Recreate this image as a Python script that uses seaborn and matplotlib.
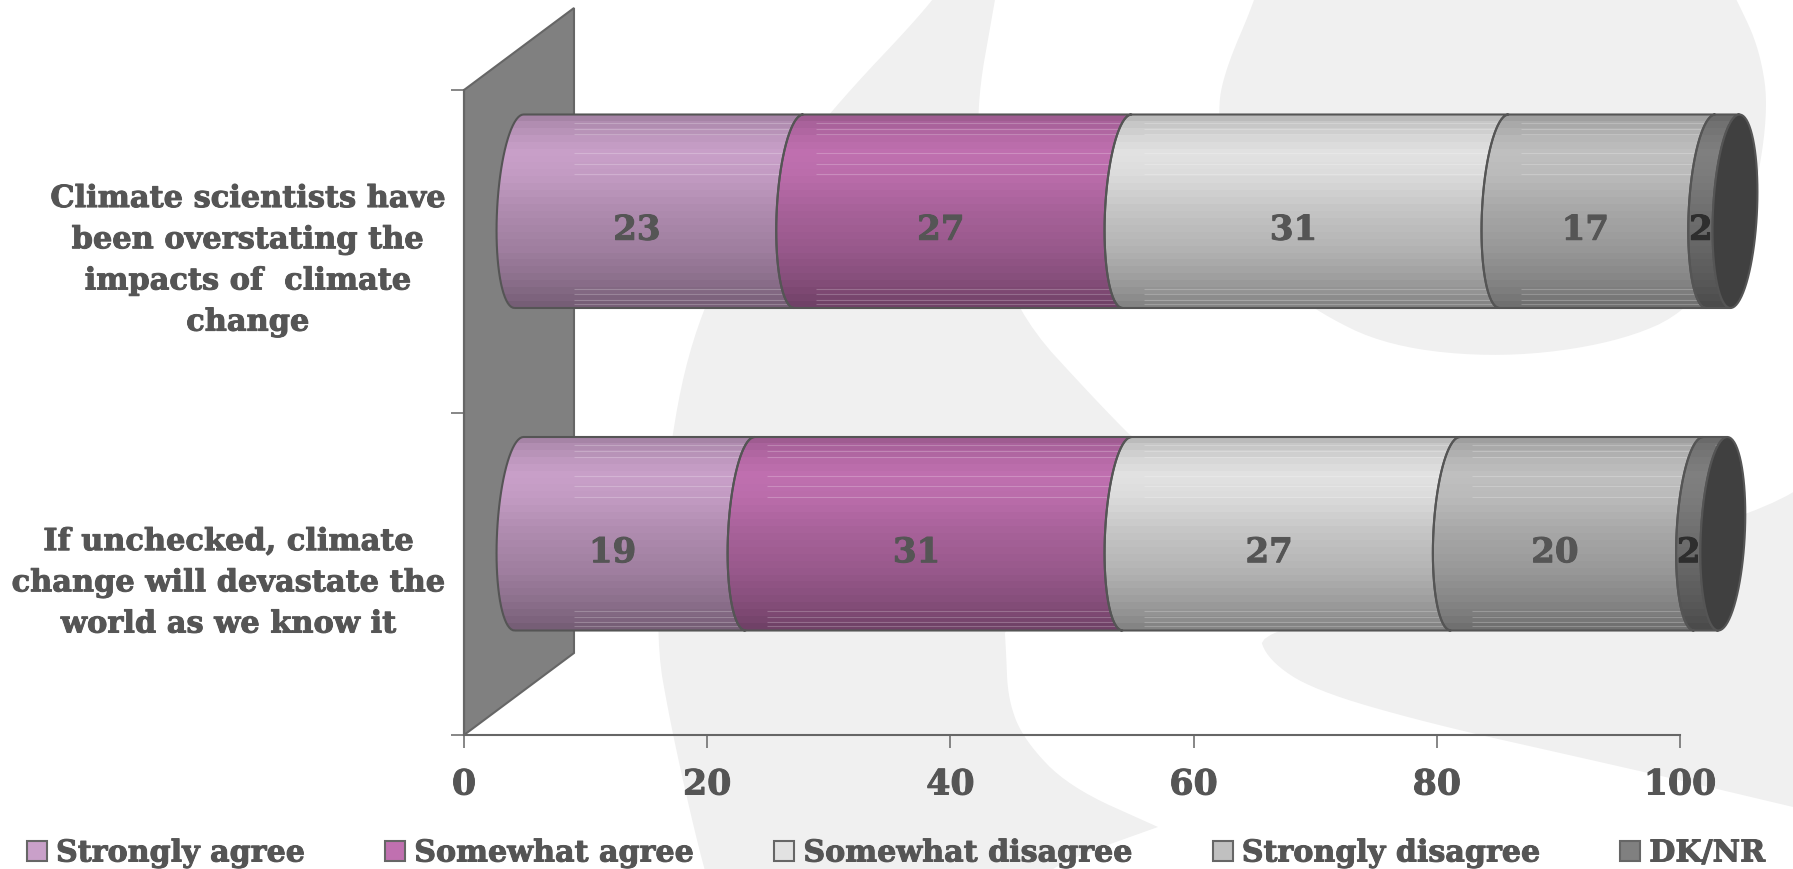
import numpy as np
import pandas as pd
import matplotlib
matplotlib.use("Agg")
import matplotlib.pyplot as plt
import matplotlib.patheffects as pe
import seaborn as sns
from matplotlib.patches import PathPatch, Patch
from matplotlib.path import Path
from matplotlib.transforms import Affine2D

# Survey results, in percent
statements = [
    "Climate scientists have\nbeen overstating the\nimpacts of  climate\nchange",
    "If unchecked, climate\nchange will devastate the\nworld as we know it",
]
responses = ["Strongly agree", "Somewhat agree", "Somewhat disagree", "Strongly disagree", "DK/NR"]
strongly_agree = [23, 19]
somewhat_agree = [27, 31]
somewhat_disagree = [31, 27]
strongly_disagree = [17, 20]
dk_nr = [2, 2]

swatch_colors = ["#C9A0C9", "#C070B0", "#E2E2E2", "#C0C0C0", "#808080"]
ink = "#555555"
frame = "#666666"
FONT = "DejaVu Serif"

W, H, DPI = 1793, 869, 100

sns.set_theme(style="white")
plt.rcParams["font.family"] = [FONT, "DejaVu Sans"]
plt.rcParams["font.weight"] = "bold"

fig = plt.figure(figsize=(W / DPI, H / DPI), dpi=DPI, facecolor="white")
heavy = [pe.withStroke(linewidth=0.7, foreground=ink)]


def smooth(points, rounds=3):
    """Corner-cut a closed outline so the backdrop shapes look hand drawn."""
    p = np.asarray(points, float)
    for _ in range(rounds):
        q = np.roll(p, -1, axis=0)
        p = np.column_stack([0.75 * p + 0.25 * q, 0.25 * p + 0.75 * q]).reshape(-1, 2)
    return p


# Pale backdrop emblem, in figure pixels
backdrop = [
    [(950, -30), (935, 0), (828, 113), (755, 210), (700, 310), (670, 433), (654, 630), (672, 733),
     (703, 867), (715, 900), (1030, 900), (1046, 867), (1158, 827), (1158, 827), (1158, 827), (1069, 787),
     (1024, 740), (1008, 700), (1006, 650), (1004, 620), (1150, 580), (1230, 500), (1150, 455), (1100, 405),
     (1013, 310), (985, 200), (975, 113), (995, 0), (1000, -30)],
    [(1262, -30), (1255, 0), (1225, 70), (1217, 113), (1228, 200), (1260, 265), (1313, 310), (1389, 347),
     (1503, 358), (1616, 343), (1692, 310), (1750, 220), (1769, 113), (1760, 50), (1737, 0), (1720, -30)],
    [(1257, 630), (1268, 660), (1313, 690), (1427, 723), (1578, 757), (1692, 783), (1793, 807),
     (1840, 818), (1840, 465), (1745, 520), (1500, 580)],
]
bg = fig.add_axes([0, 0, 1, 1], zorder=0)
bg.set_xlim(0, W)
bg.set_ylim(H, 0)
bg.axis("off")
for outline in backdrop:
    s = smooth(outline)
    bg.fill(s[:, 0], s[:, 1], color="#F0F0F0", lw=0)

# Plot area: 0-100 on x, one slot per statement on y
ax = fig.add_axes([464 / W, 1 - 735 / H, 1216 / W, 645 / H], zorder=1)
ax.patch.set_alpha(0)

series = [strongly_agree, somewhat_agree, somewhat_disagree, strongly_disagree, dk_nr]
starts = np.cumsum([np.zeros(2)] + [np.array(v, float) for v in series[:-1]], axis=0)
BAR_WIDTH = 0.6
for vals, left, col in zip(series, starts, swatch_colors):
    frame_df = pd.DataFrame({"statement": statements, "percent": vals})
    sns.barplot(data=frame_df, y="statement", x="percent", orient="y", color=col, left=left,
                width=BAR_WIDTH, errorbar=None, saturation=1, ax=ax, zorder=3, linewidth=0)

ax.set_xlim(0, 100)
ax.set_ylim(1.5, -0.5)
ax.set_xlabel("")
ax.set_ylabel("")

# Oblique projection: the cylinders sit in front of the back wall
px_x = 1216 / 100
px_y = 645 / 2
lift = ax.transData + Affine2D().translate(33, 40)

# Wall behind the bars
wall_dx, wall_dy = 110 / px_x, 82 / px_y
ax.fill([0, wall_dx, wall_dx, 0], [-0.5, -0.5 - wall_dy, 1.5 - wall_dy, 1.5],
        facecolor="#808080", edgecolor=frame, lw=1.5, clip_on=False, zorder=2)

# Cylinder shading, top to bottom, as a share of the full colour
shade_pos = [0.00, 0.05, 0.12, 0.20, 0.32, 0.50, 0.70, 0.85, 0.95, 1.00]
shade_val = [0.80, 0.88, 0.95, 1.00, 0.97, 0.87, 0.79, 0.70, 0.62, 0.57]
bands = (np.arange(28) + 0.5) / 28
shade = np.interp(bands, shade_pos, shade_val)
gleam_rows = [0.043, 0.074, 0.103, 0.20, 0.254, 0.309, 0.90, 0.93, 0.957, 0.978]

RX = 22 / px_x      # half-width of the end ellipse
SKEW = 4.5 / px_x   # lean of the ellipse
t = np.linspace(-np.pi / 2, np.pi / 2, 40)


def left_curve(x0, yc):
    xs = x0 + RX - RX * np.cos(t) + SKEW * np.sin(t)
    ys = yc - BAR_WIDTH / 2 * np.sin(t)
    return np.column_stack([xs, ys])


def clip_to(artist, shape):
    artist.set_clip_path(shape)
    artist.set_clip_box(fig.bbox)


rgb = [np.array(matplotlib.colors.to_rgb(c)) for c in swatch_colors]
containers = list(ax.containers)
for i, cont in enumerate(containers):
    for j, bar in enumerate(cont):
        x0, w = bar.get_x(), bar.get_width()
        yc = bar.get_y() + bar.get_height() / 2
        a, b = left_curve(x0, yc), left_curve(x0 + w, yc)
        poly = np.vstack([a, b[::-1], a[:1]])
        shape = PathPatch(Path(poly), facecolor="none", edgecolor=ink, lw=1.5, transform=lift,
                          clip_on=False, zorder=5, joinstyle="round")
        ax.add_patch(shape)
        bar.set_transform(lift)
        clip_to(bar, shape)

        img = (np.outer(shade, rgb[i])).reshape(len(shade), 1, 3)
        im = ax.imshow(img, extent=(x0 - 1, x0 + w + RX * 2 + 1, yc + BAR_WIDTH / 2, yc - BAR_WIDTH / 2),
                       aspect="auto", interpolation="nearest", zorder=4)
        im.set_transform(lift)
        clip_to(im, shape)

        # thin sheen lines running along the cylinder
        ys = yc - BAR_WIDTH / 2 + np.array(gleam_rows) * BAR_WIDTH
        line_from = 6.3 if i == 0 else x0 + 3.2
        gl = ax.hlines(ys, line_from, x0 + w + RX * 2, colors="white", alpha=0.22, lw=0.8,
                       transform=lift, zorder=4.5)
        clip_to(gl, shape)

        # value sits on the front of the segment
        label_col = "#2E2E2E" if i == len(containers) - 1 else ink
        ax.text(x0 + w / 2, j, f"{w:g}", ha="center", va="center", fontsize=24.5, color=label_col,
                fontweight="bold", transform=ax.transData + Affine2D().translate(33, 21), zorder=8,
                path_effects=[pe.withStroke(linewidth=0.7, foreground=label_col)])

        # open end of the last segment
        if i == len(containers) - 1:
            tt = np.linspace(0, 2 * np.pi, 80)
            cx = x0 + w + RX
            cap = np.column_stack([cx - RX * np.cos(tt) + SKEW * np.sin(tt),
                                   yc - BAR_WIDTH / 2 * np.sin(tt)])
            ax.add_patch(PathPatch(Path(np.vstack([cap, cap[:1]])), facecolor="#404040", edgecolor=ink,
                                   lw=1.5, transform=lift, clip_on=False, zorder=6))

ax.set_xlim(0, 100)
ax.set_ylim(1.5, -0.5)
ax.set_aspect("auto")

# Axes
for side in ("top", "right"):
    ax.spines[side].set_visible(False)
for side in ("left", "bottom"):
    ax.spines[side].set_color(frame)
    ax.spines[side].set_linewidth(1.5)
    ax.spines[side].set_zorder(2.5)

ax.set_xticks(range(0, 101, 20))
ax.set_yticks([-0.5, 0.5, 1.5])
ax.set_yticklabels([])
ax.set_yticks([0, 1], labels=statements, minor=True)
ax.tick_params(axis="both", which="major", length=9.4, width=1.1, color=frame, left=True, bottom=True)
ax.tick_params(axis="x", labelsize=25, labelcolor=ink, pad=14)
ax.tick_params(axis="y", which="minor", length=0, pad=13.5, labelsize=21.9, labelcolor=ink, left=False)
for lab in ax.get_yticklabels(minor=True):
    lab.set_multialignment("center")
    lab.set_fontweight("bold")
    lab.set_linespacing(1.53)
    lab.set_path_effects(heavy)
for lab in ax.get_xticklabels():
    lab.set_fontweight("bold")
    lab.set_path_effects(heavy)

# Legend along the bottom edge
handles = [Patch(facecolor=c, edgecolor=frame, lw=1.5) for c in swatch_colors]
LEG_SIZE = 21.7
leg_px = LEG_SIZE * DPI / 72
legend = fig.legend(handles, responses, ncol=5, loc="center left", bbox_to_anchor=(27 / W, 1 - 853 / H),
                    bbox_transform=fig.transFigure, frameon=False, labelcolor=ink,
                    borderpad=0, borderaxespad=0, handlelength=20 / leg_px, handleheight=20 / leg_px,
                    handletextpad=9 / leg_px, columnspacing=80 / leg_px,
                    prop={"weight": "bold", "size": LEG_SIZE})
for txt in legend.get_texts():
    txt.set_path_effects(heavy)

fig.savefig("out.png", dpi=DPI, facecolor="white")
